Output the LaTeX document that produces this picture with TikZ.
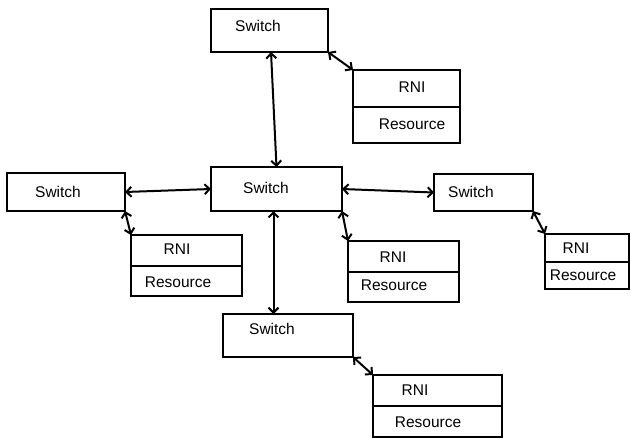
\documentclass[tikz,border=0pt]{standalone}
\usepackage{fontspec}
\setmainfont{Liberation Sans}
\usepackage{tikz}
\usetikzlibrary{arrows.meta}
\usetikzlibrary{positioning}

\begin{document}
\begin{tikzpicture}[x=1pt,y=-1pt,<->,>={Straight Barb[length=5pt,width=10pt]},line width=2pt]
            % 设置节点样式
            \tikzstyle{box}=[draw=black,fill=white,rectangle,inner sep=0pt,outer sep=0pt,line width=2.2pt]
            \tikzstyle{txt}=[inner sep=0pt,font=\fontsize{15.5}{18}\selectfont]
            \useasboundingbox (0,0) rectangle (631,437);

            % 交换机
            \node[box,minimum width=131,minimum height=44] (S0) at (276.5,189) {};
            \node[box,minimum width=117,minimum height=43] (S1) at (269.5,30.5) {};
            \node[box,minimum width=118,minimum height=38] (S2) at (66,192) {};
            \node[box,minimum width=99,minimum height=37] (S3) at (483.5,192.5) {};
            \node[box,minimum width=130,minimum height=43] (S4) at (288,335.5) {};

            % RNI 与 Resource
            \node[box,minimum width=107,minimum height=37] (R1) at (406.5,88.5) {};
            \node[box,minimum width=107,minimum height=36] (Q1) [below=0pt of R1] {};
            \node[box,minimum width=111,minimum height=31] (R2) at (186.5,250.5) {};
            \node[box,minimum width=111,minimum height=30] (Q2) [below=0pt of R2] {};
            \node[box,minimum width=111,minimum height=31] (R3) at (403.5,256.5) {};
            \node[box,minimum width=111,minimum height=30] (Q3) [below=0pt of R3] {};
            \node[box,minimum width=84,minimum height=28] (R4) at (587,248) {};
            \node[box,minimum width=84,minimum height=27] (Q4) [below=0pt of R4] {};
            \node[box,minimum width=129,minimum height=31] (R5) at (437.5,390.5) {};
            \node[box,minimum width=129,minimum height=31] (Q5) [below=0pt of R5] {};

            % 文字
            \node[txt] (t0) at (266,188) {Switch};
            \node[txt] (t1) at (258,26) {Switch};
            \node[txt] (t2) at (58,192) {Switch};
            \node[txt] (t3) at (471,192) {Switch};
            \node[txt] (t4) at (272,329) {Switch};
            \node[txt] (r1) at (412,87) {RNI};
            \node[txt] (q1) at (412,124) {Resource};
            \node[txt] (r2) at (177,249) {RNI};
            \node[txt] (q2) at (178,282) {Resource};
            \node[txt] (r3) at (393,257) {RNI};
            \node[txt] (q3) at (394,285) {Resource};
            \node[txt] (r4) at (576,248) {RNI};
            \node[txt] (q4) at (583,275) {Resource};
            \node[txt] (r5) at (415,390) {RNI};
            \node[txt] (q5) at (428,422) {Resource};

            % 连线
            \path
            ([xshift=1.5pt]S1.south) edge (S0.north)
            (S1.south east) edge (R1.north west)
            (S2.east) edge (S0.west)
            (S2.south east) edge (R2.north west)
            (S0.east) edge (S3.west)
            (S0.south east) edge (R3.north west)
            (S3.south east) edge (R4.north west)
            ([xshift=-3pt]S0.south) edge ([xshift=-3pt]S0.south |- S4.north)
            (S4.south east) edge (R5.north west);
        \end{tikzpicture}
\end{document}
